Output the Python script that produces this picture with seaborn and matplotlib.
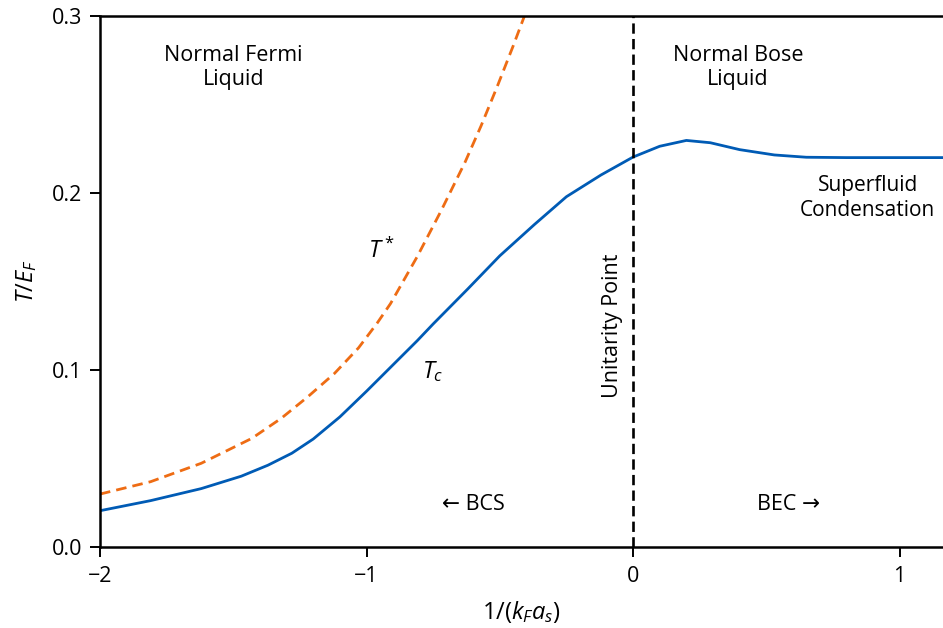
import numpy as np
import pandas as pd
import matplotlib
matplotlib.use("Agg")
import matplotlib.pyplot as plt
import seaborn as sns

# Data
tc_x = [-2.0, -1.81, -1.62, -1.47, -1.37, -1.28, -1.2, -1.1, -1.0, -0.87, -0.81,
        -0.75, -0.62, -0.5, -0.37, -0.25, -0.12, 0.0, 0.1, 0.2, 0.29, 0.4, 0.53,
        0.65, 0.8, 1.0, 1.2]
tc_y = [0.0205, 0.0262, 0.0330, 0.0400, 0.0462, 0.0530, 0.0610, 0.0735, 0.0880,
        0.1075, 0.1165, 0.1260, 0.1458, 0.1645, 0.1822, 0.1979, 0.2102, 0.2203,
        0.2264, 0.2297, 0.2284, 0.2245, 0.2215, 0.2202, 0.2200, 0.2200, 0.2200]
ts_x = [-2.0, -1.81, -1.62, -1.43, -1.32, -1.22, -1.12, -1.03, -0.96, -0.91,
        -0.81, -0.72, -0.63, -0.57, -0.51, -0.45, -0.41, -0.37]
ts_y = [0.0299, 0.0369, 0.0473, 0.0614, 0.0727, 0.0849, 0.0981, 0.1125, 0.1265,
        0.1375, 0.1640, 0.1900, 0.2175, 0.2380, 0.2600, 0.2830, 0.2990, 0.3150]

x_ticks = [-2, -1, 0, 1]
x_tick_labels = ["\u22122", "\u22121", "0", "1"]
y_ticks = [0.0, 0.1, 0.2, 0.3]
y_tick_labels = ["0.0", "0.1", "0.2", "0.3"]

sns.set_theme(style="ticks")
plt.rcParams["font.family"] = ["Open Sans", "DejaVu Sans"]
plt.rcParams["mathtext.fontset"] = "custom"
plt.rcParams["mathtext.rm"] = "Open Sans"
plt.rcParams["mathtext.it"] = "Open Sans:italic"
plt.rcParams["mathtext.bf"] = "Open Sans:bold"
plt.rcParams["text.color"] = "black"
plt.rcParams["axes.labelcolor"] = "black"

FS = 15.5
fig = plt.figure(figsize=(9.43, 6.28), dpi=100)
ax = fig.add_axes([100 / 943, 1 - 547 / 628, 843 / 943, (547 - 16) / 628])

tc_df = pd.DataFrame({"x": tc_x, "y": tc_y})
ts_df = pd.DataFrame({"x": ts_x, "y": ts_y})

sns.lineplot(data=ts_df, x="x", y="y", ax=ax, color="#ee6c14", lw=2.0,
             linestyle=(0, (3.8, 2.2)), sort=False)
sns.lineplot(data=tc_df, x="x", y="y", ax=ax, color="#005bb5", lw=2.0, sort=False)
ax.axvline(0, color="black", lw=1.9, linestyle=(0, (3.9, 2.0)))

ax.set_xlim(-2, 1.163)
ax.set_ylim(0, 0.3)
ax.set_xticks(x_ticks)
ax.set_xticklabels(x_tick_labels)
ax.set_yticks(y_ticks)
ax.set_yticklabels(y_tick_labels)
ax.tick_params(labelsize=FS, width=1.4, length=7, color="black", labelcolor="black")
ax.tick_params(axis="y", pad=6)
ax.tick_params(axis="x", pad=7)
for s in ["left", "top", "bottom"]:
    ax.spines[s].set_linewidth(1.8)
    ax.spines[s].set_color("black")
ax.spines["right"].set_visible(False)

ax.set_xlabel(r"$1/(k_F a_s)$", fontsize=17, labelpad=8, color="black")
ax.set_ylabel(r"$T/E_F$", fontsize=17, labelpad=9, color="black")

kw = dict(fontsize=FS, ha="center", va="center", linespacing=1.22, color="black")
ax.text(-1.5, 0.271, "Normal Fermi\nLiquid", **kw)
ax.text(0.394, 0.271, "Normal Bose\nLiquid", **kw)
ax.text(0.88, 0.197, "Superfluid\nCondensation", fontsize=15, ha="center",
        va="center", linespacing=1.25, color="black")
ax.text(-0.6, 0.024, "\u2190 BCS", **kw)
ax.text(0.585, 0.024, "BEC \u2192", **kw)
ax.text(-0.077, 0.125, "Unitarity Point", rotation=90, **kw)
ax.text(-0.946, 0.167, r"$T^*$", fontsize=17, ha="center", va="center", color="black")
ax.text(-0.75, 0.099, r"$T_c$", fontsize=17, ha="center", va="center", color="black")

fig.savefig("out.png", dpi=100)
